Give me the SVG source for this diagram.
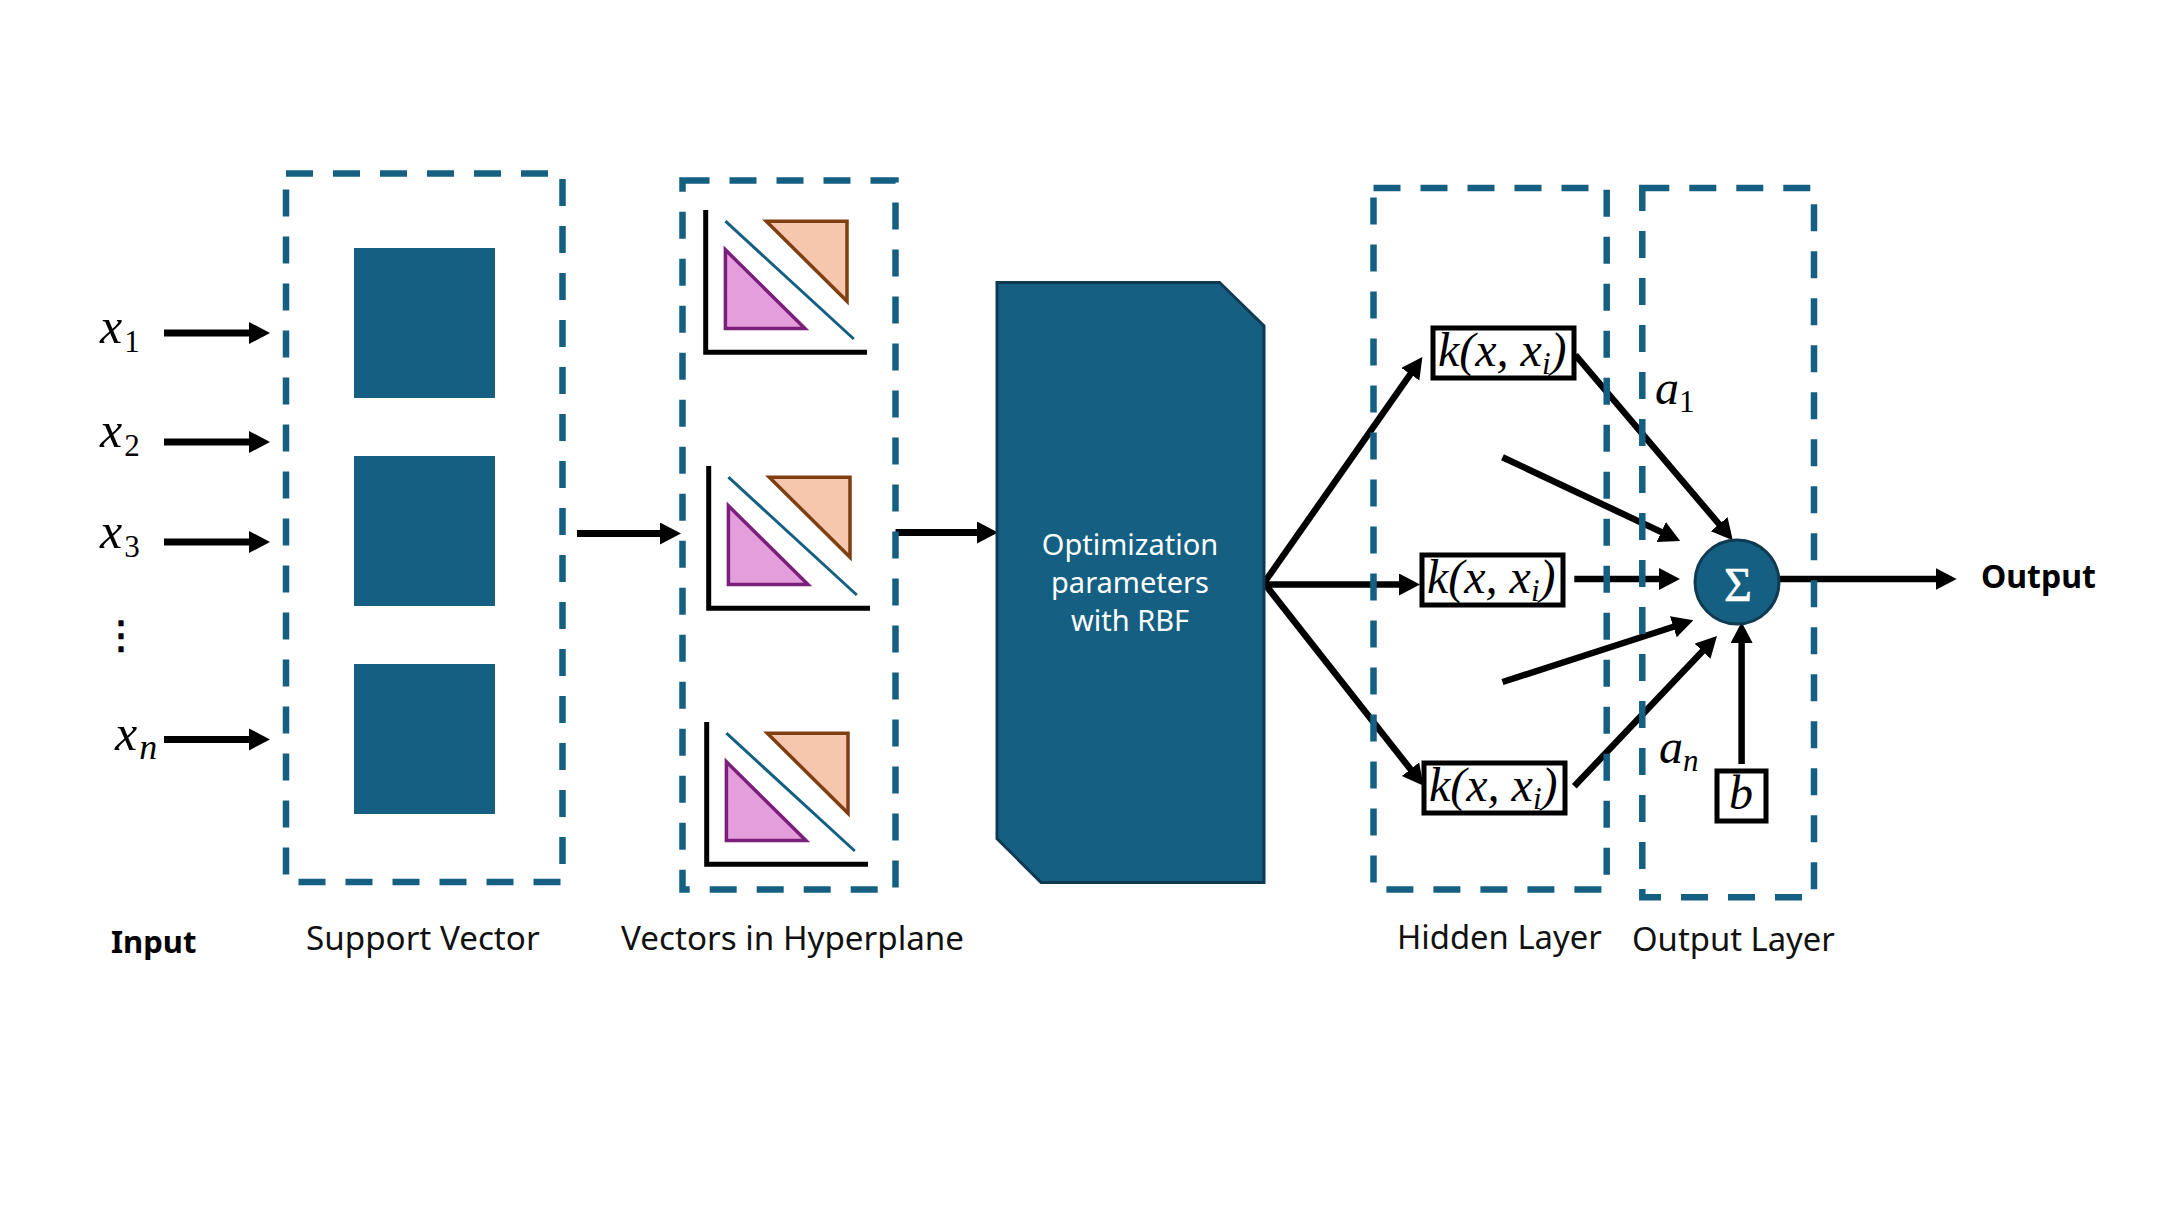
<svg xmlns="http://www.w3.org/2000/svg" width="2160" height="1215" viewBox="0 0 2160 1215">
<style>
.dash{fill:none;stroke:#156082;stroke-width:6.5;stroke-dasharray:27 20}
.block{fill:#156082}
.arr{fill:none;stroke:#000;stroke-width:6.5;marker-end:url(#head)}
.thick{stroke-width:7}
.axis{fill:none;stroke:#000;stroke-width:5}
.sep{stroke:#156082;stroke-width:3;fill:none}
.or{fill:#F6C6AD;stroke:#7F3F12;stroke-width:3.5}
.pu{fill:#E59EDC;stroke:#7A1F7A;stroke-width:3.5}
.math{font-family:"Liberation Serif",serif;font-style:italic;fill:#000}
.lab{font-family:"Noto Sans",sans-serif;font-size:33.2px;fill:#111}
.lab2{font-size:32.8px}
.bold{font-family:"Noto Sans",sans-serif;font-weight:700;fill:#000}
.wh{font-family:"Noto Sans",sans-serif;font-size:29px;fill:#fff;text-anchor:middle}
.kbox{fill:#fff;stroke:#000;stroke-width:5}
.x{font-size:50px}
.k{font-size:48px}
.sub{font-size:31px}
.subn{font-size:36px}
.d{font-style:normal}
</style>
<defs>
<marker id="head" markerUnits="userSpaceOnUse" markerWidth="24" markerHeight="24" refX="1" refY="11" orient="auto"><path d="M0 0L21 11L0 22Z" fill="#000"/></marker>
<g id="chart">
<path class="axis" d="M705.7 210V352.3H867"/>
<path class="sep" d="M725.4 221.2L853.8 339"/>
<path class="or" d="M766.3 221.2H847V301.3Z"/>
<path class="pu" d="M725.4 249.8V328.4H805Z"/>
</g>
</defs>
<g id="connectors">
<path class="arr thick" d="M164 333H250"/>
<path class="arr thick" d="M164 442H250"/>
<path class="arr thick" d="M164 542H250"/>
<path class="arr thick" d="M164 739.4H250"/>
<path class="arr thick" d="M577 533.5H661"/>
<path class="arr thick" d="M895.5 532.5H978"/>
<path class="arr" d="M1264 583L1410.9 373.4"/>
<path class="arr" d="M1264 584.5H1400"/>
<path class="arr" d="M1264 583L1411.1 770"/>
<path class="arr" d="M1575.4 355L1719.8 525"/>
<path class="arr" d="M1502.5 457.2L1662.1 532.4"/>
<path class="arr" d="M1574.3 579H1660"/>
<path class="arr" d="M1502.5 682L1674.3 626.5"/>
<path class="arr" d="M1574.3 786.2L1703.2 650.5"/>
<path class="arr" d="M1741.6 764V642"/>
<path class="arr" d="M1778.4 579H1936.7"/>
</g>
<g id="input-labels">
<text class="math x" x="100" y="343">x<tspan class="sub d" dx="2" dy="9">1</tspan></text>
<text class="math x" x="100" y="447">x<tspan class="sub d" dx="2" dy="9">2</tspan></text>
<text class="math x" x="100" y="548">x<tspan class="sub d" dx="2" dy="9">3</tspan></text>
<text font-family="DejaVu Sans,sans-serif" font-size="38" stroke="#000" stroke-width="1.2" stroke-linejoin="round" x="121" y="648" text-anchor="middle" fill="#000">⋮</text>
<text class="math x" x="115" y="750">x<tspan class="subn" dx="2" dy="9">n</tspan></text>
<text class="bold" font-size="31" x="111" y="953">Input</text>
</g>
<g id="support-vector">
<rect class="dash" x="286" y="173.5" width="276.5" height="708.5"/>
<rect class="block" x="354" y="248" width="141" height="150"/>
<rect class="block" x="354" y="456" width="141" height="150"/>
<rect class="block" x="354" y="664" width="141" height="150"/>
<text class="lab" x="306" y="950">Support Vector</text>
</g>
<g id="hyperplane">
<rect class="dash" x="682.5" y="180.4" width="213" height="709.2"/>
<use href="#chart"/>
<use href="#chart" x="3" y="256"/>
<use href="#chart" x="1" y="512"/>
<text class="lab" x="621" y="950">Vectors in Hyperplane</text>
</g>
<g id="optimization">
<path d="M997 282.4H1219.5L1264 326V882.4H1041L997 838.6Z" fill="#156082" stroke="#0F3A52" stroke-width="3"/>
<text class="wh" x="1130" y="555">Optimization</text>
<text class="wh" x="1130" y="593">parameters</text>
<text class="wh" x="1130" y="631">with RBF</text>
</g>
<g id="hidden-layer">
<rect class="dash" x="1373.5" y="188" width="233.2" height="701.5"/>
<rect class="kbox" x="1433" y="328" width="141" height="50"/>
<text class="math k" x="1438" y="366">k(x, x<tspan class="sub" dy="8">i</tspan><tspan dy="-8">)</tspan></text>
<rect class="kbox" x="1422" y="555" width="141" height="50"/>
<text class="math k" x="1427" y="593">k(x, x<tspan class="sub" dy="8">i</tspan><tspan dy="-8">)</tspan></text>
<rect class="kbox" x="1424" y="763" width="141" height="50"/>
<text class="math k" x="1429" y="801">k(x, x<tspan class="sub" dy="8">i</tspan><tspan dy="-8">)</tspan></text>
<text class="lab lab2" x="1397" y="949">Hidden Layer</text>
</g>
<g id="output-layer">
<rect class="dash" x="1642.3" y="188" width="171.7" height="709.3"/>
<circle cx="1737" cy="582" r="42" fill="#156082" stroke="#0F3A52" stroke-width="3"/>
<text x="1738" y="601" text-anchor="middle" font-family="Liberation Serif,serif" font-size="48" stroke="#fff" stroke-width="0.6" fill="#fff">Σ</text>
<rect class="kbox" x="1717" y="771" width="49" height="50"/>
<text class="math k" x="1741" y="809" text-anchor="middle">b</text>
<text class="math k" x="1655" y="404">a<tspan class="sub d" dy="8">1</tspan></text>
<text class="math k" x="1659" y="763">a<tspan class="sub" dy="8">n</tspan></text>
<text class="lab lab2" x="1632" y="951">Output Layer</text>
</g>
<g id="output-label">
<text class="bold" font-size="32" x="1981" y="588">Output</text>
</g>
</svg>
